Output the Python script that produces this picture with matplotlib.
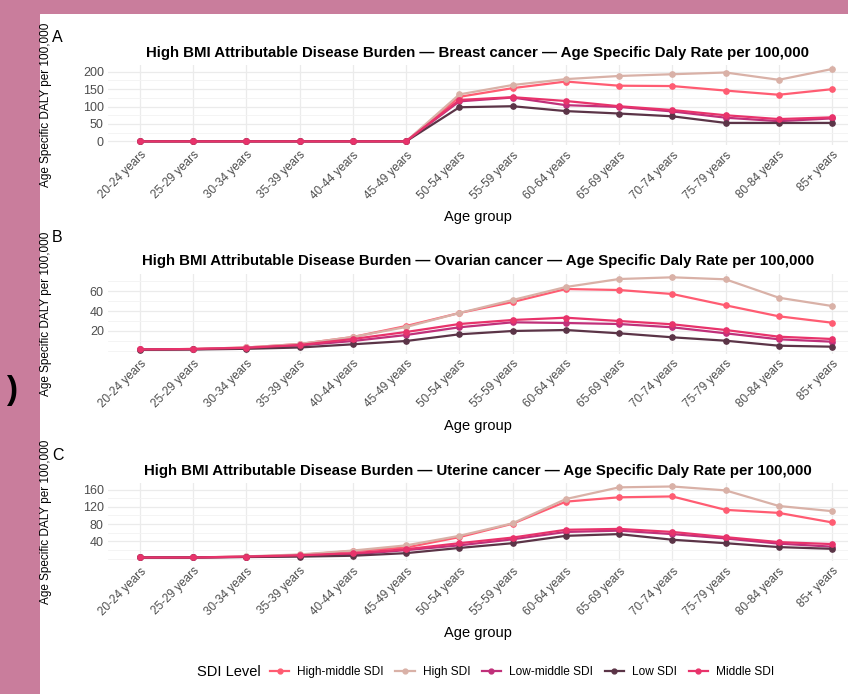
import matplotlib.pyplot as plt
from matplotlib.lines import Line2D
from matplotlib.ticker import MultipleLocator

plt.rcParams['font.family'] = ['Liberation Sans', 'DejaVu Sans']

# Age groups on the x axis
age_groups = ['20-24 years', '25-29 years', '30-34 years', '35-39 years', '40-44 years',
              '45-49 years', '50-54 years', '55-59 years', '60-64 years', '65-69 years',
              '70-74 years', '75-79 years', '80-84 years', '85+ years']

sdi_levels = ['High-middle SDI', 'High SDI', 'Low-middle SDI', 'Low SDI', 'Middle SDI']
sdi_colors = ['#FF5C72', '#D9B1A7', '#C0307A', '#5B3447', '#E8336B']

# Breast cancer DALY rate per 100,000
breast_high_middle = [0, 0, 0, 0, 0, 0, 128, 153, 172, 160, 159, 146, 134, 150]
breast_high = [0, 0, 0, 0, 0, 0, 135, 162, 179, 188, 193, 198, 177, 208]
breast_low_middle = [0, 0, 0, 0, 0, 0, 115, 126, 104, 99, 86, 68, 58, 66]
breast_low = [0, 0, 0, 0, 0, 0, 98, 101, 87, 80, 72, 53, 53, 53]
breast_middle = [0, 0, 0, 0, 0, 0, 119, 127, 116, 101, 90, 75, 64, 69]

# Ovarian cancer DALY rate per 100,000
ovarian_high_middle = [1.5, 2, 3.5, 7, 14, 25, 38, 49, 62, 61, 57, 45.7, 34.7, 28.3]
ovarian_high = [1.5, 2, 3.5, 7, 14, 24, 38, 51, 64, 72, 73.7, 71.7, 53.3, 45]
ovarian_low_middle = [1.5, 1.8, 3, 5.5, 10, 16, 23.7, 28.7, 28, 27, 23.7, 17.7, 11.7, 9.3]
ovarian_low = [1.2, 1.5, 2.2, 3.5, 6.7, 10, 16.7, 20, 21, 17.7, 13.7, 10.3, 5.3, 4.3]
ovarian_middle = [1.5, 2, 3.2, 6, 12, 19, 27, 31, 33.3, 30, 26.7, 21, 14.3, 12]

# Uterine cancer DALY rate per 100,000
uterine_high_middle = [3, 3, 5, 9, 18, 26, 50, 81, 132, 142, 144, 113, 106, 84]
uterine_high = [3, 3, 5.5, 10, 19, 31, 53, 82, 138, 165, 167, 158, 122, 110]
uterine_low_middle = [3, 3, 4.5, 7, 10, 20, 31, 45, 62, 65, 57, 47, 35, 28]
uterine_low = [3, 3, 4, 5, 7, 13, 25, 36, 53, 57, 44, 36, 27, 23]
uterine_middle = [3, 3, 5, 8, 13, 22, 36, 49, 67, 69, 62, 50, 38.5, 34]

# letter, cancer, series, y ticks, y limits, axes bottom/top, letter y
panels = [
    ('A', 'Breast cancer',
     [breast_high_middle, breast_high, breast_low_middle, breast_low, breast_middle],
     [0, 50, 100, 150, 200], (-10.5, 219.5), (0.7911, 0.9063), 38),
    ('B', 'Ovarian cancer',
     [ovarian_high_middle, ovarian_high, ovarian_low_middle, ovarian_low, ovarian_middle],
     [20, 40, 60], (-2.6, 77.3), (0.4905, 0.6056), 238),
    ('C', 'Uterine cancer',
     [uterine_high_middle, uterine_high, uterine_low_middle, uterine_low, uterine_middle],
     [40, 80, 120, 160], (-5.2, 175), (0.1916, 0.3040), 455),
]

W, H = 848, 694
fig = plt.figure(figsize=(W / 100, H / 100), dpi=100)
fig.patch.set_facecolor('#C97D9C')

# white page behind the three panels
bg = fig.add_axes([40 / W, 0, 1 - 40 / W, 1 - 14 / H], zorder=-1)
bg.set_axis_off()
bg.add_patch(plt.Rectangle((0, 0), 1, 1, transform=bg.transAxes, color='white'))

fig.text(12 / W, 1 - 390 / H, ')', fontsize=24, fontweight='bold', ha='center', va='center')

x = list(range(len(age_groups)))
for letter, cancer, series, yticks, ylim, (bottom, top), letter_y in panels:
    ax = fig.add_axes([108 / W, bottom, 1 - 108 / W, top - bottom])
    ax.set_facecolor('none')
    for vals, color in zip(series, sdi_colors):
        ax.plot(x, vals, color=color, lw=1.6, marker='o', ms=3.8, zorder=3)
    ax.set_xlim(-0.6, 13.3)
    ax.set_ylim(*ylim)
    ax.set_yticks(yticks)
    step = yticks[1] - yticks[0]
    ax.yaxis.set_minor_locator(MultipleLocator(step / 2))
    ax.set_xticks(x)
    ax.set_xticklabels(age_groups, rotation=45, ha='right', rotation_mode='anchor')
    ax.tick_params(axis='both', which='both', length=0, labelsize=9, labelcolor='#4D4D4D', pad=3)
    ax.tick_params(axis='x', labelsize=8.5)
    ax.grid(True, which='major', color='#EBEBEB', lw=0.9)
    ax.grid(True, which='minor', axis='y', color='#F3F3F3', lw=0.6)
    ax.set_axisbelow(True)
    for s in ax.spines.values():
        s.set_visible(False)
    ax.set_title(f'High BMI Attributable Disease Burden \u2014 {cancer} \u2014 '
                 'Age Specific Daly Rate per 100,000',
                 fontsize=10.8, fontweight='bold', pad=6)
    ax.set_xlabel('Age group', fontsize=10.5, labelpad=6)
    ax.set_ylabel('Age Specific DALY per 100,000', fontsize=8.5)
    ax.yaxis.set_label_coords(-0.075, 0.5)
    fig.text(52 / W, 1 - letter_y / H, letter, fontsize=11.5, ha='left', va='center')

# legend along the bottom, title on the same row
handles = [Line2D([], [], color=c, lw=1.6, marker='o', ms=3.5) for c in sdi_colors]
fig.text(197 / W, 1 - 672 / H, 'SDI Level', fontsize=10.5, ha='left', va='center')
fig.legend(handles, sdi_levels, loc='center left', bbox_to_anchor=(270 / W, 1 - 672 / H),
           ncol=5, frameon=False, fontsize=8.6, borderaxespad=0, borderpad=0,
           handlelength=1.6, handletextpad=0.7, columnspacing=0.95)

fig.savefig('out.png', dpi=100, facecolor=fig.get_facecolor())
